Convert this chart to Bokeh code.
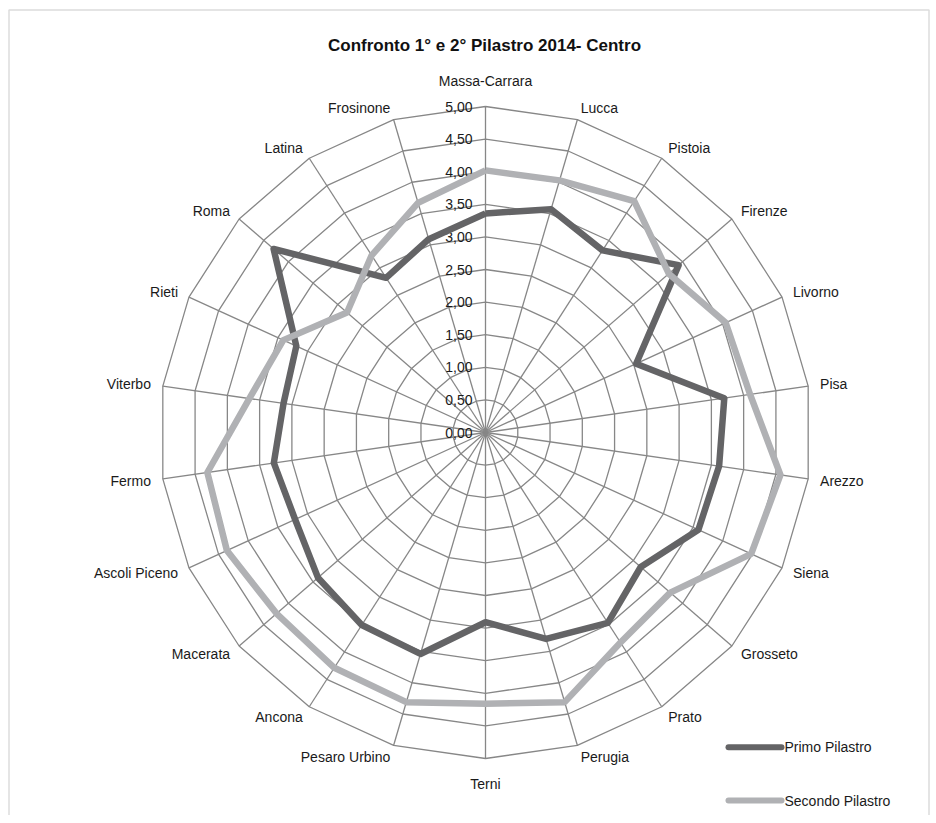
import numpy as np
from bokeh.plotting import figure
from bokeh.models import ColumnDataSource, BoxAnnotation
from bokeh.core.properties import value
from bokeh.embed import file_html
from bokeh.resources import INLINE

# ---------------- data ----------------
categories = ["Massa-Carrara", "Lucca", "Pistoia", "Firenze", "Livorno", "Pisa",
              "Arezzo", "Siena", "Grosseto", "Prato", "Perugia", "Terni",
              "Pesaro Urbino", "Ancona", "Macerata", "Ascoli Piceno", "Fermo",
              "Viterbo", "Rieti", "Roma", "Latina", "Frosinone"]
primo = [3.36, 3.57, 3.32, 3.92, 2.54, 3.70, 3.62, 3.59, 3.15, 3.47, 3.30,
         2.91, 3.54, 3.51, 3.40, 3.21, 3.28, 3.13, 3.19, 4.30, 2.82, 3.09]
secondo = [4.02, 4.03, 4.22, 3.72, 4.05, 4.10, 4.57, 4.48, 3.75, 3.83, 4.31,
           4.16, 4.31, 4.29, 4.24, 4.36, 4.31, 3.66, 3.41, 2.81, 3.23, 3.67]
ring_values = [0.0, 0.5, 1.0, 1.5, 2.0, 2.5, 3.0, 3.5, 4.0, 4.5, 5.0]
ring_labels = ["0,00", "0,50", "1,00", "1,50", "2,00", "2,50", "3,00",
               "3,50", "4,00", "4,50", "5,00"]
series_names = ["Primo Pilastro", "Secondo Pilastro"]
title_text = "Confronto 1° e 2° Pilastro 2014- Centro"

# ---------------- layout ----------------
W, H = 932, 815
CX, CY = 485, 432                  # centre in canvas pixels
S = 65.2                           # pixels per unit
RMAX = 5.0

def sx(px):
    return (px - CX) / S

def sy(py):
    return (CY - py) / S

FONT = value("Liberation Sans")
GRID = "#878787"
DARK = "#646466"
LIGHT = "#b0b1b4"
TXT = "#1a1a1a"

p = figure(width=W, height=H, output_backend="svg", toolbar_location=None,
           x_range=(-CX / S, (W - CX) / S), y_range=(-(H - CY) / S, CY / S),
           min_border=0)
p.axis.visible = False
p.grid.visible = False
p.outline_line_color = None
p.background_fill_color = "white"

n = len(categories)
theta = np.arange(n) * 2 * np.pi / n
st, ct = np.sin(theta), np.cos(theta)

# rings
for rv in ring_values[1:]:
    xs = list(rv * st) + [rv * st[0]]
    ys = list(rv * ct) + [rv * ct[0]]
    p.line(xs, ys, line_color=GRID, line_width=1.3)
# spokes
p.multi_line([[0, RMAX * s] for s in st], [[0, RMAX * c] for c in ct],
             line_color=GRID, line_width=1.3)

# ring labels
p.text(x=[sx(472)] * len(ring_values), y=ring_values, text=ring_labels,
       text_align="right", text_baseline="middle", text_font=FONT,
       text_font_size="14px", text_color=TXT)

# series
for vals, col in [(primo, DARK), (secondo, LIGHT)]:
    v = np.array(vals)
    xs = list(v * st) + [v[0] * st[0]]
    ys = list(v * ct) + [v[0] * ct[0]]
    p.line(xs, ys, line_color=col, line_width=6.5, line_join="round")

# category labels
lx, ly, al, bl = [], [], [], []
for i in range(n):
    if ct[i] > 0.99:
        gap, b = 18, "bottom"
    elif ct[i] < -0.99:
        gap, b = 17, "top"
    else:
        gap, b = 12, "middle"
    r = RMAX + gap / S
    lx.append(r * st[i]); ly.append(r * ct[i])
    al.append("left" if st[i] > 0.1 else ("right" if st[i] < -0.1 else "center"))
    bl.append(b)
src = ColumnDataSource(dict(x=lx, y=ly, t=categories, a=al, b=bl))
p.text(x="x", y="y", text="t", text_align="a", text_baseline="b", source=src,
       text_font=FONT, text_font_size="14px", text_color=TXT)

# title
p.text(x=[sx(484)], y=[sy(45)], text=[title_text], text_align="center",
       text_baseline="middle", text_font=FONT, text_font_size="17px",
       text_font_style="bold", text_color="#111111")

# legend
for name, col, yy in [(series_names[0], DARK, 746.7), (series_names[1], LIGHT, 800)]:
    p.line([sx(728), sx(781)], [sy(yy), sy(yy)], line_color=col, line_width=6,
           line_cap="round")
    p.text(x=[sx(784)], y=[sy(yy)], text=[name], text_align="left",
           text_baseline="middle", text_font=FONT, text_font_size="14px",
           text_color=TXT)

# outer frame (bottom edge beyond view)
p.add_layout(BoxAnnotation(left=sx(8.5), right=sx(928.5), top=sy(9.5), bottom=sy(900),
                           fill_alpha=0, line_color="#8c8c8c", line_width=1.5))

open("out.html", "w").write(file_html(p, INLINE))
